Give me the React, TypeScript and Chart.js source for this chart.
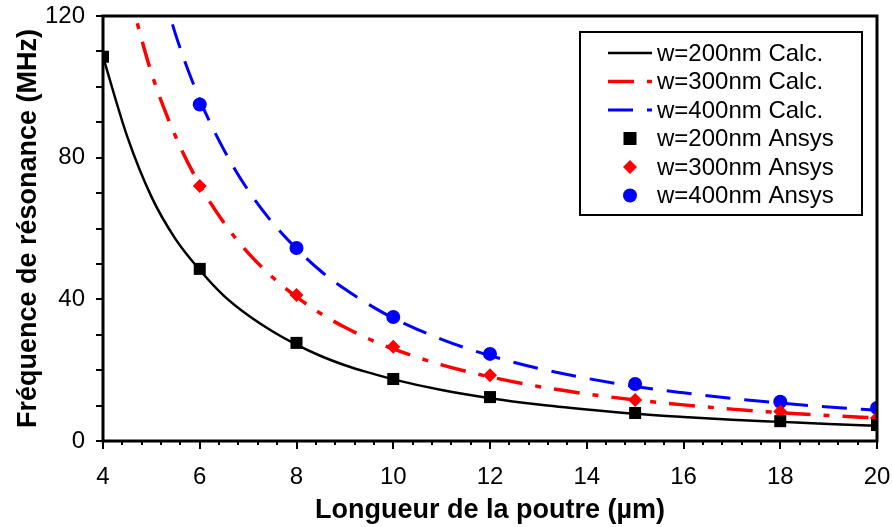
import React, { useEffect, useRef } from "react";
import { Chart, registerables } from "chart.js";

Chart.register(...registerables);

const FONT = "'Liberation Sans', Arial, sans-serif";

// Calculated curves (x in µm, f in MHz)
const calcX = [4, 4.5, 5, 5.5, 6, 6.5, 7, 7.5, 8, 8.5, 9, 9.5, 10, 11, 12, 13, 14, 15, 16, 17, 18, 19, 20];
const calc200 = [108.5, 86, 69, 57, 48.3, 41, 35.5, 31, 27.2, 24, 21.4, 19.3, 17.4, 14.4, 12.1, 10.3, 8.9, 7.7, 6.8, 6.0, 5.4, 4.8, 4.3];
const calc300 = [null, 128.6, 104, 86, 72.3, 61.6, 53.1, 46.3, 40.7, 36, 32.1, 28.8, 26, 21.5, 18.1, 15.4, 13.3, 11.6, 10.2, 9.0, 8.0, 7.2, 6.5];
const calc400 = [null, null, 138.9, 114.8, 96.4, 82.2, 70.8, 61.7, 54.3, 48, 42.9, 38.5, 34.7, 28.7, 24.1, 20.5, 17.7, 15.4, 13.6, 12.0, 10.7, 9.6, 8.7];

// Ansys simulation points
const ansysX = [4, 6, 8, 10, 12, 15, 18, 20];
const ansys200 = [108.5, 48.6, 27.7, 17.5, 12.4, 7.9, 5.6, 4.5];
const ansys300 = [null, 72, 41.2, 26.6, 18.6, 11.6, 8.3, 6.5];
const ansys400 = [null, 95, 54.5, 35, 24.6, 16.1, 11.1, 9.3];

const seriesLabels = [
  "w=200nm Calc.",
  "w=300nm Calc.",
  "w=400nm Calc.",
  "w=200nm Ansys",
  "w=300nm Ansys",
  "w=400nm Ansys",
];

const xTitle = "Longueur de la poutre (µm)";
const yTitle = "Fréquence de résonance (MHz)";
const xMin = 4, xMax = 20, xStep = 2, xMinorPerMajor = 5;
const yMin = 0, yMax = 120, yStep = 40, yMinorPerMajor = 4;

function toPoints(xs: number[], ys: (number | null)[]) {
  const out: { x: number; y: number }[] = [];
  xs.forEach((x, i) => {
    const y = ys[i];
    if (y !== null && y !== undefined) out.push({ x, y });
  });
  return out;
}

const framePlugin = {
  id: "frameAndTicks",
  afterDraw(chart: any) {
    const { ctx, chartArea } = chart;
    const xs = chart.scales.x;
    const ys = chart.scales.y;
    ctx.save();
    ctx.strokeStyle = "#000";
    ctx.lineWidth = 2;
    const xMinorStep = xStep / xMinorPerMajor;
    const nx = Math.round((xMax - xMin) / xMinorStep);
    for (let i = 0; i <= nx; i++) {
      const v = xMin + i * xMinorStep;
      const px = Math.round(xs.getPixelForValue(v));
      const major = i % xMinorPerMajor === 0;
      ctx.beginPath();
      ctx.moveTo(px, chartArea.bottom);
      ctx.lineTo(px, chartArea.bottom + (major ? 8 : 4));
      ctx.stroke();
    }
    const yMinorStep = yStep / yMinorPerMajor;
    const ny = Math.round((yMax - yMin) / yMinorStep);
    for (let i = 0; i <= ny; i++) {
      const v = yMin + i * yMinorStep;
      const py = Math.round(ys.getPixelForValue(v));
      ctx.beginPath();
      ctx.moveTo(chartArea.left, py);
      ctx.lineTo(chartArea.left - 7, py);
      ctx.stroke();
    }
    ctx.lineWidth = 3;
    ctx.strokeRect(chartArea.left, chartArea.top, chartArea.right - chartArea.left, chartArea.bottom - chartArea.top);

    // legend
    const bx = 580, by = 32, bw = 282, bh = 183;
    ctx.fillStyle = "#fff";
    ctx.fillRect(bx, by, bw, bh);
    ctx.lineWidth = 2;
    ctx.strokeRect(bx, by, bw, bh);
    const rowH = 28.5;
    const sx0 = 608, sx1 = 652, tx = 657;
    ctx.font = `24px ${FONT}`;
    ctx.textBaseline = "middle";
    ctx.textAlign = "left";
    chart.data.datasets.forEach((ds: any, i: number) => {
      const cy = by + 21 + i * rowH;
      if (ds.showLine) {
        ctx.save();
        ctx.strokeStyle = ds.borderColor;
        ctx.lineWidth = ds.borderWidth;
        ctx.setLineDash(ds.borderDash || []);
        ctx.beginPath();
        ctx.moveTo(sx0, cy);
        ctx.lineTo(sx1, cy);
        ctx.stroke();
        ctx.restore();
      } else {
        const cx = (sx0 + sx1) / 2;
        ctx.fillStyle = ds.backgroundColor;
        ctx.beginPath();
        if (ds.pointStyle === "rect") {
          ctx.rect(cx - 6.5, cy - 6.5, 13, 13);
        } else if (ds.pointStyle === "rectRot") {
          ctx.moveTo(cx, cy - 7);
          ctx.lineTo(cx + 7, cy);
          ctx.lineTo(cx, cy + 7);
          ctx.lineTo(cx - 7, cy);
          ctx.closePath();
        } else {
          ctx.arc(cx, cy, 7, 0, Math.PI * 2);
        }
        ctx.fill();
      }
      ctx.fillStyle = "#000";
      ctx.fillText(ds.label, tx, cy + 1);
    });
    ctx.restore();
  },
};

export default function App() {
  const ref = useRef<HTMLCanvasElement | null>(null);
  useEffect(() => {
    document.body.style.margin = "0";
    const canvas = ref.current!;
    const chart = new Chart(canvas, {
      type: "scatter",
      data: {
        datasets: [
          {
            label: seriesLabels[0],
            data: toPoints(calcX, calc200),
            showLine: true,
            borderColor: "#000",
            backgroundColor: "#000",
            borderWidth: 2.5,
            pointRadius: 0,
            cubicInterpolationMode: "monotone",
            order: 2,
          },
          {
            label: seriesLabels[1],
            data: toPoints(calcX, calc300),
            showLine: true,
            borderColor: "#ff0000",
            backgroundColor: "#ff0000",
            borderWidth: 3.5,
            borderDash: [26, 13, 6, 13],
            pointRadius: 0,
            cubicInterpolationMode: "monotone",
            order: 2,
          },
          {
            label: seriesLabels[2],
            data: toPoints(calcX, calc400),
            showLine: true,
            borderColor: "#0000ff",
            backgroundColor: "#0000ff",
            borderWidth: 3,
            borderDash: [25, 14],
            pointRadius: 0,
            cubicInterpolationMode: "monotone",
            order: 2,
          },
          {
            label: seriesLabels[3],
            data: toPoints(ansysX, ansys200),
            showLine: false,
            pointStyle: "rect",
            pointRadius: 8.5,
            backgroundColor: "#000",
            borderColor: "#000",
            borderWidth: 0,
            order: 1,
          },
          {
            label: seriesLabels[4],
            data: toPoints(ansysX, ansys300),
            showLine: false,
            pointStyle: "rectRot",
            pointRadius: 7,
            backgroundColor: "#ff0000",
            borderColor: "#ff0000",
            borderWidth: 0,
            order: 1,
          },
          {
            label: seriesLabels[5],
            data: toPoints(ansysX, ansys400),
            showLine: false,
            pointStyle: "circle",
            pointRadius: 7,
            backgroundColor: "#0000ff",
            borderColor: "#0000ff",
            borderWidth: 0,
            order: 1,
          },
        ],
      } as any,
      options: {
        responsive: false,
        animation: false,
        devicePixelRatio: 1,
        layout: { padding: { top: 16, right: 15, left: 0, bottom: 0 } },
        plugins: {
          legend: { display: false },
          tooltip: { enabled: false },
        },
        scales: {
          x: {
            type: "linear",
            min: xMin,
            max: xMax,
            grid: { display: false, drawTicks: false },
            border: { display: false },
            ticks: {
              stepSize: xStep,
              color: "#000",
              font: { family: FONT, size: 24 },
              padding: 22,
            },
            title: {
              display: true,
              text: xTitle,
              color: "#000",
              font: { family: FONT, size: 27, weight: "bold" },
              padding: { top: 0, bottom: 0 },
            },
            afterFit: (s: any) => {
              s.height = 86;
              s.paddingLeft = 0;
              s.paddingRight = 0;
            },
          },
          y: {
            type: "linear",
            min: yMin,
            max: yMax,
            grid: { display: false, drawTicks: false },
            border: { display: false },
            ticks: {
              stepSize: yStep,
              color: "#000",
              font: { family: FONT, size: 24 },
              padding: 18,
            },
            title: {
              display: true,
              text: yTitle,
              color: "#000",
              font: { family: FONT, size: 27, weight: "bold" },
              padding: { top: 12, bottom: 0 },
            },
            afterFit: (s: any) => {
              s.width = 103;
              s.paddingTop = 0;
              s.paddingBottom = 0;
            },
          },
        },
      } as any,
      plugins: [framePlugin],
    });
    return () => chart.destroy();
  }, []);
  return (
    <div style={{ position: "fixed", left: 0, top: 0, width: 892, height: 527, background: "#fff" }}>
      <canvas ref={ref} width={892} height={527} style={{ width: 892, height: 527, display: "block" }} />
    </div>
  );
}
